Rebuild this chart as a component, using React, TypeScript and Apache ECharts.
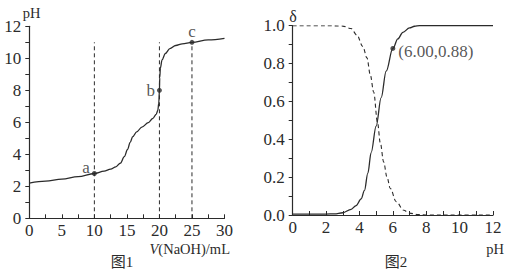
import React, { useEffect, useRef } from "react";
import * as echarts from "echarts";

// ---- Figure 1: titration curve ----
const titrationV = [0, 2.5, 5, 7.5, 10, 11.5, 12.5, 13.3, 14, 14.6, 15.1, 15.5, 15.9, 16.5, 17.3, 18.3, 19.0, 19.5, 19.75, 19.9, 20.0, 20.05, 20.15, 20.4, 20.9, 21.6, 22.5, 23.5, 25, 27.5, 30];
const titrationPH = [2.2, 2.32, 2.45, 2.6, 2.8, 2.95, 3.07, 3.22, 3.45, 3.85, 4.3, 4.75, 5.1, 5.4, 5.7, 5.98, 6.25, 6.5, 6.75, 7.2, 8.0, 8.8, 9.4, 9.9, 10.3, 10.6, 10.8, 10.9, 11.0, 11.15, 11.25];
const markerNames = ["a", "b", "c"];
const markerV = [10, 20, 25];
const markerPH = [2.8, 8.0, 11.0];
const dropLineTop = 11;
const xTicks1 = { min: 0, max: 30, interval: 5 };
const yTicks1 = { min: 0, max: 12, interval: 2 };

// ---- Figure 2: distribution fractions ----
const solidPH = [0, 1, 2, 2.5, 3, 3.5, 3.8, 4.1, 4.3, 4.5, 4.7, 5.0, 5.3, 5.6, 6.0, 6.3, 6.6, 7.0, 7.3, 7.6, 8, 10, 12];
const solidDelta = [0.005, 0.005, 0.005, 0.006, 0.012, 0.03, 0.05, 0.085, 0.13, 0.22, 0.33, 0.47, 0.62, 0.76, 0.88, 0.93, 0.965, 0.988, 0.997, 1.0, 1.0, 1.0, 1.0];
const dashedPH = [0, 2, 3, 3.5, 3.85, 4.2, 4.45, 4.65, 4.85, 5.08, 5.25, 5.45, 5.65, 5.85, 6.2, 6.65, 7.0, 7.5, 8, 10, 12];
const dashedDelta = [1, 1, 0.998, 0.985, 0.95, 0.89, 0.83, 0.74, 0.65, 0.49, 0.38, 0.28, 0.2, 0.14, 0.07, 0.025, 0.01, 0.002, 0, 0, 0];
const pointPH = 6.0;
const pointDelta = 0.88;
const xTicks2 = { min: 0, max: 12, interval: 2 };
const yTicks2 = { min: 0, max: 1, interval: 0.2 };

const INK = "#2b2b2b";
const FONT = "'Liberation Serif', 'Times New Roman', 'Noto Sans CJK SC', serif";

function axisCommon(inside: boolean) {
  return {
    axisLine: { show: true, onZero: false, lineStyle: { color: INK, width: 1.2 } },
    axisTick: { show: true, inside, length: 4, lineStyle: { color: INK, width: 1 } },
    minorTick: { show: true, splitNumber: 2, length: 4, lineStyle: { color: INK, width: 1 } },
    splitLine: { show: false },
    axisLabel: { color: INK, fontFamily: FONT, fontSize: 17, margin: 5 },
  };
}

export default function App() {
  const ref = useRef<HTMLDivElement>(null);

  useEffect(() => {
    if (!ref.current) return;
    const chart = echarts.init(ref.current, null, { renderer: "svg" });

    const dropLines = markerV.map((v, i) => ({
      type: "line",
      xAxisIndex: 0,
      yAxisIndex: 0,
      data: [
        [v, 0],
        [v, i === 2 ? markerPH[i] : dropLineTop],
      ],
      symbol: "none",
      silent: true,
      lineStyle: { color: INK, width: 1, type: [4, 3] },
    }));

    const option: any = {
      animation: false,
      backgroundColor: "#ffffff",
      textStyle: { fontFamily: FONT },
      grid: [
        { left: 29.3, top: 26.3, width: 195.2, height: 192, containLabel: false },
        { left: 292.7, top: 25.7, width: 200.3, height: 189.3, containLabel: false },
      ],
      xAxis: [
        {
          gridIndex: 0,
          type: "value",
          ...xTicks1,
          ...axisCommon(true),
          axisLabel: { ...axisCommon(true).axisLabel, margin: 4 },
        },
        {
          gridIndex: 1,
          type: "value",
          ...xTicks2,
          ...axisCommon(true),
          axisLabel: { ...axisCommon(true).axisLabel, margin: 4 },
        },
      ],
      yAxis: [
        {
          gridIndex: 0,
          type: "value",
          ...yTicks1,
          ...axisCommon(false),
          axisLabel: { ...axisCommon(false).axisLabel, margin: 8 },
        },
        {
          gridIndex: 1,
          type: "value",
          ...yTicks2,
          ...axisCommon(false),
          axisLabel: {
            ...axisCommon(false).axisLabel,
            margin: 8,
            formatter: (v: number) => v.toFixed(1),
          },
        },
      ],
      series: [
        ...dropLines,
        {
          type: "line",
          xAxisIndex: 0,
          yAxisIndex: 0,
          data: titrationV.map((v, i) => [v, titrationPH[i]]),
          symbol: "none",
          smooth: 0.35,
          smoothMonotone: "x",
          lineStyle: { color: INK, width: 1.3 },
        },
        {
          type: "scatter",
          xAxisIndex: 0,
          yAxisIndex: 0,
          symbolSize: 5,
          itemStyle: { color: INK },
          data: markerNames.map((n, i) => ({
            name: n,
            value: [markerV[i], markerPH[i]],
            label: {
              show: true,
              formatter: n,
              color: INK,
              fontFamily: FONT,
              fontSize: 17,
              position: i === 2 ? "top" : "left",
              distance: i === 2 ? 0 : 2,
              offset: i === 0 ? [0, -6] : [0, 0],
            },
          })),
        },
        {
          type: "line",
          xAxisIndex: 1,
          yAxisIndex: 1,
          data: dashedPH.map((p, i) => [p, dashedDelta[i]]),
          symbol: "none",
          smooth: 0.35,
          smoothMonotone: "x",
          lineStyle: { color: INK, width: 1.1, type: [4, 3] },
        },
        {
          type: "line",
          xAxisIndex: 1,
          yAxisIndex: 1,
          data: solidPH.map((p, i) => [p, solidDelta[i]]),
          symbol: "none",
          smooth: 0.35,
          smoothMonotone: "x",
          lineStyle: { color: INK, width: 1.3 },
        },
        {
          type: "scatter",
          xAxisIndex: 1,
          yAxisIndex: 1,
          symbolSize: 5,
          itemStyle: { color: INK },
          data: [
            {
              value: [pointPH, pointDelta],
              label: {
                show: true,
                formatter: `(${pointPH.toFixed(2)},${pointDelta.toFixed(2)})`,
                position: "right",
                distance: 3,
                offset: [0, 3],
                color: INK,
                fontFamily: FONT,
                fontSize: 17,
              },
            },
          ],
        },
      ],
      graphic: [
        {
          type: "text",
          x: 31.5,
          y: 13,
          style: { text: "pH", fill: INK, font: `14.5px ${FONT}`, align: "center", verticalAlign: "middle" },
        },
        {
          type: "text",
          x: 230,
          y: 249,
          style: {
            text: "{i|V}(NaOH)/mL",
            fill: INK,
            font: `14.5px ${FONT}`,
            align: "right",
            verticalAlign: "middle",
            rich: { i: { fontStyle: "italic", fontFamily: FONT, fontSize: 14.5, fill: INK } },
          },
        },
        {
          type: "text",
          x: 122,
          y: 262,
          style: { text: "图1", fill: INK, font: `15px ${FONT}`, align: "center", verticalAlign: "middle" },
        },
        {
          type: "text",
          x: 293,
          y: 16,
          style: { text: "δ", fill: INK, font: `16px ${FONT}`, align: "center", verticalAlign: "middle" },
        },
        {
          type: "text",
          x: 495,
          y: 249,
          style: { text: "pH", fill: INK, font: `14.5px ${FONT}`, align: "center", verticalAlign: "middle" },
        },
        {
          type: "text",
          x: 396,
          y: 262,
          style: { text: "图2", fill: INK, font: `15px ${FONT}`, align: "center", verticalAlign: "middle" },
        },
      ],
    };

    chart.setOption(option);
    return () => chart.dispose();
  }, []);

  return (
    <div
      ref={ref}
      style={{ position: "fixed", left: 0, top: 0, width: 513, height: 274, background: "#fff" }}
    />
  );
}
